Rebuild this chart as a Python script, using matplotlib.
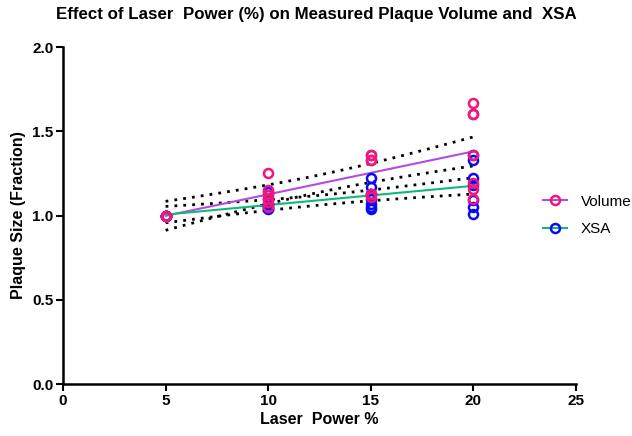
import numpy as np
import matplotlib.pyplot as plt

plt.rcParams['font.family'] = ['Liberation Sans', 'DejaVu Sans']

# data (many circles overlap)
vol_x = [5] * 7 + [10] * 7 + [15] * 7 + [20] * 7
vol_y = [1.0, 1.0, 1.0, 1.0, 1.0, 1.0, 1.0,
         1.25, 1.15, 1.12, 1.10, 1.08, 1.05, 1.12,
         1.36, 1.33, 1.36, 1.33, 1.13, 1.11, 1.13,
         1.67, 1.60, 1.60, 1.36, 1.19, 1.16, 1.10]
xsa_x = [5] * 7 + [10] * 7 + [15] * 7 + [20] * 7
xsa_y = [1.0, 1.0, 1.0, 1.0, 1.0, 1.0, 1.0,
         1.14, 1.10, 1.07, 1.05, 1.04, 1.07, 1.05,
         1.22, 1.17, 1.13, 1.10, 1.07, 1.05, 1.04,
         1.36, 1.33, 1.22, 1.18, 1.09, 1.05, 1.01]

vol_col = '#f0157f'
vol_line = '#b44be1'
xsa_col = '#0a0af5'
xsa_line = '#13b77a'


def fit_band(x, y, t=2.056):
    x = np.array(x, float)
    y = np.array(y, float)
    n = len(x)
    b, a = np.polyfit(x, y, 1)
    res = y - (a + b * x)
    s = np.sqrt(np.sum(res ** 2) / (n - 2))
    xs = np.linspace(x.min(), x.max(), 50)
    yf = a + b * xs
    se = s * np.sqrt(1 / n + (xs - x.mean()) ** 2 / np.sum((x - x.mean()) ** 2))
    return xs, yf, yf - t * se, yf + t * se


fig = plt.figure(figsize=(6.32, 4.36), dpi=100)
ax = fig.add_axes([63 / 632, 1 - 384 / 436, 513 / 632, 337 / 436])

for x, y, mc, lc, lab, zp in [(vol_x, vol_y, vol_col, vol_line, 'Volume', 5),
                              (xsa_x, xsa_y, xsa_col, xsa_line, 'XSA', 4)]:
    xs, yf, lo, hi = fit_band(x, y)
    ax.plot(xs, lo, color='black', ls=(0, (1, 2.2)), lw=2, zorder=2)
    ax.plot(xs, hi, color='black', ls=(0, (1, 2.2)), lw=2, zorder=2)
    ax.plot(xs, yf, color=lc, lw=1.5, zorder=3)
    ax.plot(x, y, 'o', ms=6.5, mfc='none', mec=mc, mew=1.8, zorder=zp)
    ax.plot([], [], color=lc, lw=1.5, marker='o', ms=6.5, mfc='none', mec=mc, mew=1.8, label=lab)

ax.set_xlim(0, 25)
ax.set_ylim(0, 2.0)
ax.set_xticks([0, 5, 10, 15, 20, 25])
ax.set_yticks([0.0, 0.5, 1.0, 1.5, 2.0])
ax.set_yticklabels(['0.0', '0.5', '1.0', '1.5', '2.0'])
ax.spines['top'].set_visible(False)
ax.spines['right'].set_visible(False)
ax.spines['left'].set_linewidth(1.8)
ax.spines['bottom'].set_linewidth(1.8)
ax.tick_params(width=1.5, length=5, labelsize=11, pad=2)
for t in ax.get_xticklabels() + ax.get_yticklabels():
    t.set_fontweight('bold')
ax.set_xlabel('Laser  Power %', fontsize=11.5, fontweight='bold', labelpad=3)
ax.set_ylabel('Plaque Size (Fraction)', fontsize=11.5, fontweight='bold', labelpad=4)
fig.suptitle('Effect of Laser  Power (%) on Measured Plaque Volume and  XSA',
             fontsize=12.2, fontweight='bold', x=0.5, y=0.985)
ax.legend(loc='center left', bbox_to_anchor=(0.935, 0.5), frameon=False,
          fontsize=11, handlelength=1.6, handletextpad=0.9, labelspacing=0.9,
          borderaxespad=0, borderpad=0)

fig.savefig('out.png', dpi=100)
